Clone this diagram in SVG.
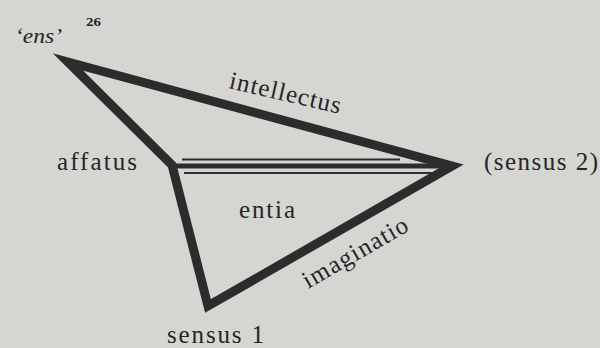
<svg xmlns="http://www.w3.org/2000/svg" width="600" height="348" viewBox="0 0 600 348">
  <style>
    .lbl { font-family: "Liberation Serif", "Times New Roman", serif; fill: #252525; }
    .edge { fill: none; stroke: #2c2c2c; stroke-width: 9; stroke-linejoin: miter; stroke-miterlimit: 20; }
    .thick { stroke: #2c2c2c; stroke-width: 5; fill: none; }
    .thin { stroke: #2c2c2c; stroke-width: 2; fill: none; }
  </style>
  <rect width="600" height="348" fill="#d5d5d1"/>
  <g id="connectors">
    <polygon class="edge" points="68,62 452,166 208,306 172,165"/>
    <line class="thick" x1="172" y1="166" x2="452" y2="166"/>
    <line class="thin" x1="182" y1="159.5" x2="400" y2="159.5"/>
    <line class="thin" x1="184" y1="173" x2="437" y2="173"/>
  </g>
  <g id="node-ens">
    <text class="lbl" x="15" y="43" style="font-size:22px;font-style:italic" textLength="47" lengthAdjust="spacingAndGlyphs">‘ens’</text>
    <text class="lbl" x="86" y="26" style="font-size:12px;font-weight:bold" textLength="15" lengthAdjust="spacingAndGlyphs">26</text>
  </g>
  <g id="node-affatus">
    <text class="lbl" x="57" y="170" style="font-size:25px" textLength="80" lengthAdjust="spacing">affatus</text>
  </g>
  <g id="node-sensus2">
    <text class="lbl" x="484" y="170" style="font-size:25px" textLength="114" lengthAdjust="spacing">(sensus  2)</text>
  </g>
  <g id="node-sensus1">
    <text class="lbl" x="167" y="343" style="font-size:25px" textLength="97" lengthAdjust="spacing">sensus  1</text>
  </g>
  <g id="node-entia">
    <text class="lbl" x="239" y="218" style="font-size:25px" textLength="56" lengthAdjust="spacing">entia</text>
  </g>
  <g id="label-intellectus">
    <text class="lbl" transform="translate(228,88) rotate(13)" style="font-size:25px" textLength="114" lengthAdjust="spacing">intellectus</text>
  </g>
  <g id="label-imaginatio">
    <text class="lbl" transform="translate(308,289) rotate(-30)" style="font-size:25px" textLength="118" lengthAdjust="spacing">imaginatio</text>
  </g>
</svg>
